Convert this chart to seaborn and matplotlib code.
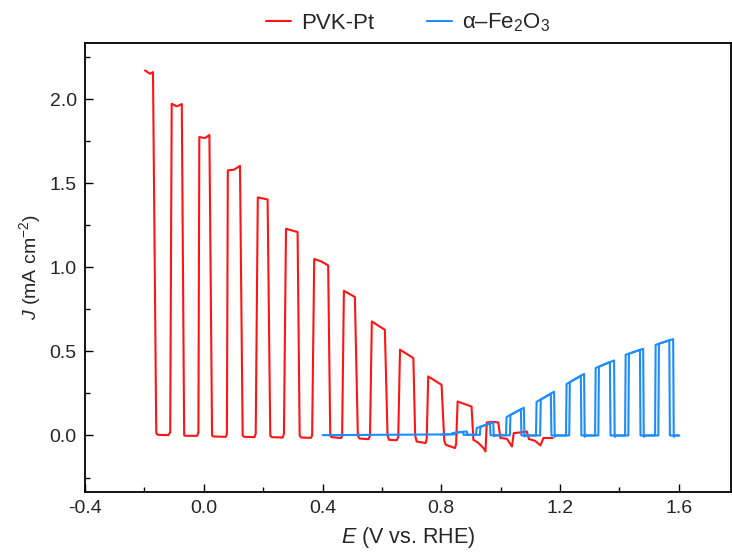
import matplotlib
matplotlib.use("Agg")
import matplotlib.pyplot as plt
from matplotlib.ticker import MultipleLocator
import seaborn as sns
import pandas as pd

# ---------------- data ----------------
pvk_E = [-0.198, -0.181, -0.171,
         -0.160, -0.155, -0.119, -0.113,
         -0.108, -0.091, -0.074,
         -0.066, -0.060, -0.022, -0.018,
         -0.015, 0.004, 0.019,
         0.028, 0.032, 0.074, 0.078,
         0.081, 0.102, 0.122,
         0.131, 0.136, 0.171, 0.175,
         0.182, 0.215,
         0.224, 0.229, 0.266, 0.270,
         0.277, 0.316,
         0.323, 0.328, 0.361, 0.365,
         0.372, 0.395, 0.419,
         0.426, 0.430, 0.463, 0.466,
         0.472, 0.509,
         0.519, 0.524, 0.555, 0.560,
         0.566, 0.610,
         0.619, 0.624, 0.650, 0.655,
         0.661, 0.706,
         0.712, 0.717, 0.747, 0.751,
         0.756, 0.801,
         0.810, 0.815, 0.846, 0.850,
         0.855, 0.902,
         0.908, 0.924, 0.942, 0.949,
         0.953, 0.974, 0.992,
         0.999, 1.021, 1.038,
         1.044, 1.065, 1.088,
         1.095, 1.116, 1.134, 1.144, 1.175]
pvk_J = [2.170, 2.150, 2.160,
         0.014, 0.004, 0.002, 0.020,
         1.972, 1.956, 1.970,
         0.000, -0.002, -0.002, 0.020,
         1.774, 1.768, 1.786,
         0.000, -0.006, -0.008, 0.010,
         1.576, 1.580, 1.603,
         0.000, -0.008, -0.010, 0.010,
         1.415, 1.403,
         0.000, -0.010, -0.012, 0.010,
         1.229, 1.209,
         0.000, -0.012, -0.014, 0.000,
         1.049, 1.035, 1.011,
         0.000, -0.010, -0.015, 0.000,
         0.860, 0.823,
         0.000, -0.018, -0.022, 0.000,
         0.678, 0.628,
         0.000, -0.026, -0.028, -0.010,
         0.510, 0.460,
         0.000, -0.036, -0.045, -0.020,
         0.351, 0.301,
         -0.030, -0.055, -0.075, -0.050,
         0.202, 0.172,
         -0.026, -0.043, -0.075, -0.095,
         0.077, 0.081, 0.077,
         -0.015, -0.020, -0.065,
         0.014, 0.018, 0.024,
         -0.021, -0.032, -0.059, -0.015, -0.015]

# alpha-Fe2O3, first sweep (wider light-on windows)
fe_scan1_E = [0.400, 0.600, 0.800, 0.835,
              0.837, 0.886, 0.888, 0.917,
              0.919, 0.975, 0.977, 0.984, 1.018,
              1.020, 1.078, 1.080, 1.086, 1.119,
              1.121, 1.180, 1.182, 1.188, 1.220,
              1.222, 1.281, 1.283, 1.289, 1.318,
              1.320, 1.382, 1.384, 1.390, 1.419,
              1.421, 1.480, 1.482, 1.488, 1.520,
              1.522, 1.581, 1.583, 1.589, 1.602]
fe_scan1_J = [0.002, 0.004, 0.006, 0.007,
              0.014, 0.024, 0.004, 0.004,
              0.044, 0.078, -0.004, 0.001, 0.001,
              0.110, 0.165, -0.006, 0.000, 0.000,
              0.200, 0.260, -0.008, 0.000, 0.000,
              0.306, 0.366, -0.008, 0.000, 0.000,
              0.401, 0.446, -0.008, 0.000, 0.000,
              0.480, 0.515, -0.008, 0.000, 0.000,
              0.539, 0.573, -0.008, 0.000, 0.000]

# alpha-Fe2O3, second sweep (narrower light-on windows)
fe_scan2_E = [0.800, 0.846, 0.848, 0.873, 0.875, 0.930,
              0.932, 0.964, 0.966, 1.031,
              1.033, 1.068, 1.070, 1.133,
              1.135, 1.169, 1.171, 1.231,
              1.233, 1.270, 1.272, 1.329,
              1.331, 1.368, 1.370, 1.430,
              1.432, 1.469, 1.471, 1.531,
              1.533, 1.568, 1.570, 1.600]
fe_scan2_J = [0.006, 0.007, 0.017, 0.022, 0.004, 0.004,
              0.052, 0.072, 0.001, 0.001,
              0.122, 0.155, 0.000, 0.000,
              0.213, 0.249, 0.000, 0.000,
              0.317, 0.355, 0.000, 0.000,
              0.409, 0.437, 0.000, 0.000,
              0.486, 0.509, 0.000, 0.000,
              0.545, 0.566, 0.000, 0.000]

series_labels = ["PVK-Pt", "α–Fe$_2$O$_3$"]
series_colors = ["#FF1414", "#1E8CFA"]
x_ticks = [-0.4, 0.0, 0.4, 0.8, 1.2, 1.6]
y_ticks = [0.0, 0.5, 1.0, 1.5, 2.0]

# ---------------- build long table ----------------
frames = [
    pd.DataFrame({"E": pvk_E, "J": pvk_J, "sample": series_labels[0], "scan": 0}),
    pd.DataFrame({"E": fe_scan1_E, "J": fe_scan1_J, "sample": series_labels[1], "scan": 1}),
    pd.DataFrame({"E": fe_scan2_E, "J": fe_scan2_J, "sample": series_labels[1], "scan": 2}),
]
df = pd.concat(frames, ignore_index=True)

# ---------------- style ----------------
sns.set_style("white")
plt.rcParams["font.family"] = ["Liberation Sans", "DejaVu Sans"]
plt.rcParams["mathtext.fontset"] = "custom"
plt.rcParams["mathtext.rm"] = "Liberation Sans"
plt.rcParams["mathtext.it"] = "Liberation Sans:italic"
plt.rcParams["mathtext.bf"] = "Liberation Sans:bold"

fig = plt.figure(figsize=(7.32, 5.56), dpi=100)
ax = fig.add_axes([85 / 732, 1 - 491.5 / 556, (731 - 85) / 732, (491.5 - 43) / 556])

sns.lineplot(data=df, x="E", y="J", hue="sample", units="scan",
             estimator=None, sort=False, palette=series_colors,
             hue_order=series_labels, linewidth=1.5, ax=ax)

ax.set_xlim(-0.4, -0.4 + (731 - 85) / 296.9)
ax.set_ylim(-0.333, 2.333)
ax.set_xticks(x_ticks)
ax.set_yticks(y_ticks)
ax.set_xticklabels([f"{v:.1f}" for v in x_ticks])
ax.set_yticklabels([f"{v:.1f}" for v in y_ticks])
ax.xaxis.set_minor_locator(MultipleLocator(0.2))
ax.yaxis.set_minor_locator(MultipleLocator(0.25))
ax.tick_params(which="both", direction="in", bottom=True, left=True,
               top=False, right=False, color="black", width=1.0)
ax.tick_params(which="major", length=6, labelsize=14, pad=6)
ax.tick_params(which="minor", length=3.5)

for s in ax.spines.values():
    s.set_color("black")
    s.set_linewidth(1.3)

ax.set_xlabel("$E$ (V vs. RHE)", fontsize=15.5, labelpad=6)
ax.set_ylabel("$J$ (mA cm$^{-2}$)", fontsize=14, labelpad=5)

sns.move_legend(ax, "lower center", bbox_to_anchor=(0.5, 1.0), ncol=2,
                frameon=False, title=None, fontsize=16, handlelength=1.1,
                columnspacing=2.4, handletextpad=0.45, borderaxespad=0.0)

fig.savefig("out.png", dpi=100)
